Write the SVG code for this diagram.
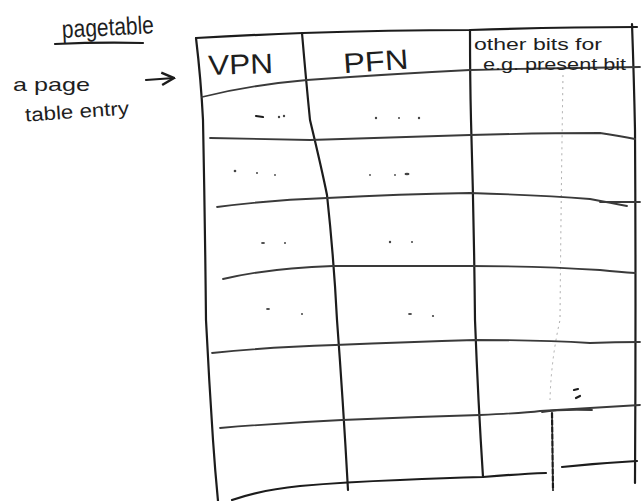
<svg xmlns="http://www.w3.org/2000/svg" width="643" height="501" viewBox="0 0 643 501">
  <style>
    .ink { fill: none; stroke: #1c1c1c; stroke-width: 2.2; stroke-linecap: round; stroke-linejoin: round; }
    .rule { fill: none; stroke: #3a3a3a; stroke-width: 1.8; stroke-linecap: round; stroke-linejoin: round; }
    .faint { fill: none; stroke: #a8a8a8; stroke-width: 1; stroke-dasharray: 2 4; }
    .hand { font-family: "Liberation Sans", "DejaVu Sans", sans-serif; fill: #1e1e1e; }
    .dot { fill: #444; }
  </style>
  <defs>
    <marker id="head" viewBox="0 0 10 10" refX="9" refY="5" markerWidth="7" markerHeight="7" orient="auto">
      <path d="M1,1 L9,5 L1,9" fill="none" stroke="#1c1c1c" stroke-width="1.6"/>
    </marker>
  </defs>
  <rect width="643" height="501" fill="#ffffff"/>

  <!-- heading -->
  <g id="title">
    <text class="hand" x="62" y="36" font-size="25" textLength="92" lengthAdjust="spacingAndGlyphs" transform="rotate(-3 100 30)">pagetable</text>
    <path class="ink" d="M55,44 Q100,42 143,43" stroke-width="1.8"/>
  </g>

  <!-- side note -->
  <g id="entry-label">
    <text class="hand" x="13" y="91" font-size="19" textLength="77" lengthAdjust="spacingAndGlyphs">a page</text>
    <text class="hand" x="25" y="118" font-size="19" textLength="104" lengthAdjust="spacingAndGlyphs" transform="rotate(-4 77 112)">table entry</text>
  </g>

  <!-- connectors -->
  <g id="connectors">
    <path class="ink" d="M146,80 L174,78" marker-end="url(#head)" stroke-width="1.8"/>
  </g>

  <!-- the table -->
  <g id="page-table">
    <!-- outer frame -->
    <path class="ink" d="M196,38 Q250,35 303,33 Q390,30 470,30 Q560,27 637,27"/>
    <path class="ink" d="M196,38 Q201,80 203,120 Q205,220 206,320 Q209,380 213,440 Q215,470 218,501"/>
    <path class="ink" d="M632,24 Q634,80 635,130 Q636,300 635,483"/>
    <path class="ink" d="M232,500 Q260,490 300,486 Q345,482 400,480 Q445,478 483,477 Q520,474 546,473"/>
    <path class="ink" d="M562,467 Q600,463 637,461"/>

    <!-- column dividers -->
    <path class="ink" d="M302,33 Q306,80 310,120 Q322,170 327,195 Q334,260 337,320 Q343,400 348,490"/>
    <path class="ink" d="M470,30 Q470,80 471,120 Q474,220 475,320 Q478,400 483,477"/>
    <path class="faint" d="M563,75 Q561,200 560,320 Q551,360 550,400"/>
    <path class="ink" d="M552,413 L553,490" stroke-width="1.3" stroke="#666" stroke-dasharray="5 2"/>

    <!-- row rules -->
    <path class="rule" d="M202,97 Q250,85 307,80 Q390,74 470,70 Q560,68 640,67"/>
    <path class="rule" d="M210,138 Q260,139 310,140 Q400,137 470,135 Q540,133 600,133 Q620,136 635,139"/>
    <path class="rule" d="M217,207 Q270,200 327,198 Q400,194 470,193 Q540,195 590,199 Q612,203 627,206"/>
    <path class="rule" d="M600,202 L640,202"/>
    <path class="rule" d="M223,279 Q270,268 333,266 Q400,266 470,266 Q540,266 600,270 Q620,272 635,273"/>
    <path class="rule" d="M212,353 Q270,347 335,345 Q410,342 475,340 Q540,340 590,343 Q615,342 640,342"/>
    <path class="rule" d="M220,428 Q280,423 342,420 Q410,417 480,415 Q525,413 540,411 Q590,408 640,405"/>
    <path class="rule" d="M542,412 Q560,409 592,410" stroke-width="1.4"/>

    <!-- headers -->
    <text class="hand" x="208" y="74" font-size="28" textLength="65" lengthAdjust="spacingAndGlyphs" transform="rotate(-2 240 62)">VPN</text>
    <text class="hand" x="343" y="71" font-size="28" textLength="65" lengthAdjust="spacingAndGlyphs" transform="rotate(-4 375 58)">PFN</text>
    <text class="hand" x="474" y="50" font-size="16" textLength="128" lengthAdjust="spacingAndGlyphs">other bits for</text>
    <text class="hand" x="483" y="70" font-size="16" textLength="143" lengthAdjust="spacingAndGlyphs">e.g. present bit</text>

    <!-- placeholder marks in the cells -->
    <path class="ink" d="M256,116 L263,117" stroke-width="1.4"/>
    <circle class="dot" cx="279" cy="117" r="1.2"/><circle class="dot" cx="284" cy="116" r="1.2"/>
    <circle class="dot" cx="376" cy="118" r="1.2"/><circle class="dot" cx="399" cy="118" r="1"/><circle class="dot" cx="419" cy="118" r="1.2"/>
    <circle class="dot" cx="235" cy="171" r="1.3"/><circle class="dot" cx="257" cy="173" r="1"/><circle class="dot" cx="275" cy="175" r="0.9"/>
    <circle class="dot" cx="370" cy="175" r="0.9"/><circle class="dot" cx="395" cy="175" r="0.9"/><ellipse class="dot" cx="407" cy="174" rx="2.5" ry="1.3"/>
    <ellipse class="dot" cx="263" cy="243" rx="2" ry="1.1"/><circle class="dot" cx="285" cy="243" r="1"/>
    <circle class="dot" cx="390" cy="242" r="1.2"/><circle class="dot" cx="412" cy="242" r="1"/>
    <ellipse class="dot" cx="268" cy="309" rx="2" ry="1"/><circle class="dot" cx="302" cy="314" r="1"/>
    <ellipse class="dot" cx="410" cy="314" rx="2" ry="1"/><circle class="dot" cx="433" cy="316" r="1.1"/>
    <path class="ink" d="M574,390 L578,389 M576,398 L580,396" stroke-width="1" stroke="#555"/>
  </g>
</svg>
